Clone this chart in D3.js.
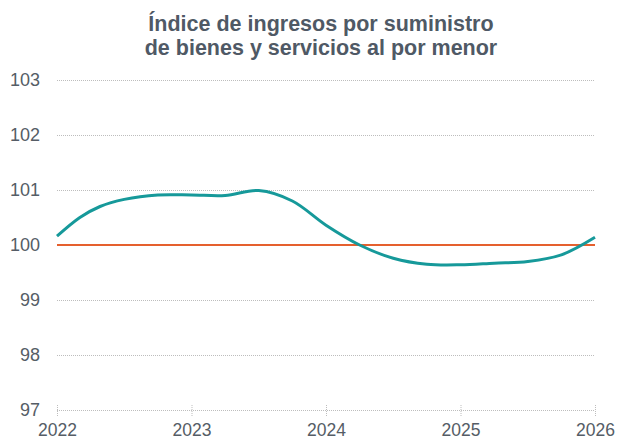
<!DOCTYPE html>
<html lang="es">
<head>
<meta charset="UTF-8">
<title>Índice de ingresos</title>
<script src="https://cdn.jsdelivr.net/npm/d3@7"></script>
<style>
  body { margin: 0; background: #fff; }
  svg { display: block; font-family: "Liberation Sans", Arial, sans-serif; }
</style>
</head>
<body>
<svg id="chart"></svg>
<script>
// quarterly points (decimal year)
var periods = [2022.0, 2022.17, 2022.32, 2022.5, 2022.75, 2023.0, 2023.25, 2023.5, 2023.75,
               2024.0, 2024.25, 2024.5, 2024.75, 2025.0, 2025.25, 2025.5, 2025.75, 2026.0];
var indexValues = [100.16, 100.5, 100.7, 100.83, 100.91, 100.91, 100.9, 100.99, 100.8,
                   100.36, 100.0, 99.76, 99.65, 99.64, 99.67, 99.7, 99.82, 100.14];
var baseLine = 100;
var yTicks = [97, 98, 99, 100, 101, 102, 103];
var xTicks = [2022, 2023, 2024, 2025, 2026];
var titleLines = ["Índice de ingresos por suministro", "de bienes y servicios al por menor"];

var width = 617, height = 439;
var margin = { top: 80, right: 22, bottom: 29, left: 57 };

var svg = d3.select("#chart").attr("width", width).attr("height", height);

var x = d3.scaleLinear().domain([2022, 2026]).range([margin.left, width - margin.right]);
var y = d3.scaleLinear().domain([97, 103]).range([height - margin.bottom, margin.top]);

// title
svg.append("text")
  .attr("x", 321).attr("y", 31)
  .attr("text-anchor", "middle")
  .attr("fill", "#4f5965")
  .attr("font-size", 21.5).attr("font-weight", "bold")
  .selectAll("tspan").data(titleLines).enter().append("tspan")
  .attr("x", 321).attr("dy", function(d, i) { return i ? 24 : 0; })
  .text(function(d) { return d; });

// gridlines + y labels
var yAxis = d3.axisLeft(y).tickValues(yTicks).tickFormat(d3.format("d"))
  .tickSize(-(width - margin.left - margin.right)).tickPadding(17);
var gy = svg.append("g").attr("transform", "translate(" + margin.left + ",0)").call(yAxis);
gy.select(".domain").remove();
gy.selectAll("line").attr("stroke", "#bdbdbd").attr("stroke-dasharray", "1,1");
gy.selectAll("text").attr("fill", "#555d66").attr("font-size", 18)
  .attr("font-family", "Liberation Sans, Arial, sans-serif");

// x axis
var xAxis = d3.axisBottom(x).tickValues(xTicks).tickFormat(d3.format("d")).tickSize(0);
var gx = svg.append("g").attr("transform", "translate(0," + (height - margin.bottom) + ")").call(xAxis);
gx.select(".domain").remove();
gx.selectAll("line").attr("stroke", "#bdbdbd").attr("stroke-dasharray", "1,1")
  .attr("y1", -5).attr("y2", 7);
gx.selectAll("text").attr("fill", "#555d66").attr("font-size", 17.5)
  .attr("font-family", "Liberation Sans, Arial, sans-serif").attr("y", 25.5).attr("dy", 0);

// reference line at 100
svg.append("line")
  .attr("x1", x(2022)).attr("x2", x(2026))
  .attr("y1", y(baseLine)).attr("y2", y(baseLine))
  .attr("stroke", "#e5602e").attr("stroke-width", 2);

// series
var line = d3.line()
  .x(function(d, i) { return x(periods[i]); })
  .y(function(d) { return y(d); })
  .curve(d3.curveCatmullRom.alpha(0.5));

svg.append("path")
  .datum(indexValues)
  .attr("fill", "none")
  .attr("stroke", "#16999a")
  .attr("stroke-width", 3)
  .attr("d", line);
</script>
</body>
</html>
